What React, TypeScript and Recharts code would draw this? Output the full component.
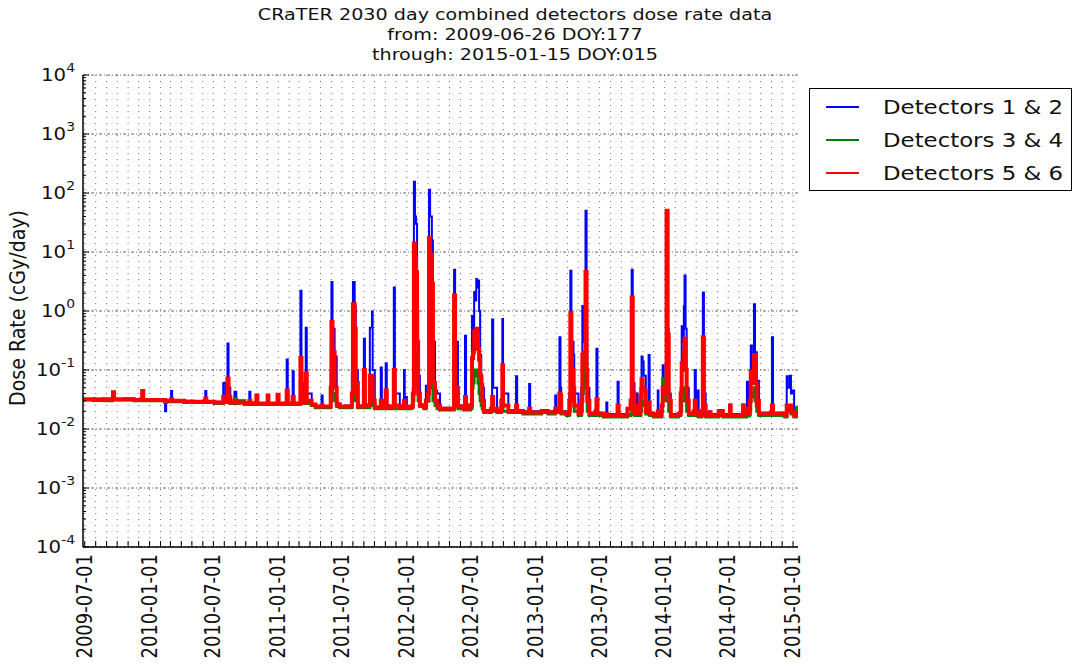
import React from 'react'
import { LineChart, Line, XAxis, YAxis, CartesianGrid } from 'recharts'

// days counted from 2009-06-26 (DOY 177)
const START_DATE = '2009-06-26'
const LAST_DAY = 2029

const days = [
  0, 31, 60, 83, 85, 88, 117, 145, 165, 168,
  171, 202, 230, 233, 236, 250, 253, 287, 316, 347,
  350, 373, 396, 398, 404, 410, 413, 418, 430, 435,
  444, 458, 472, 475, 492, 495, 512, 524, 526, 552,
  555, 575, 578, 581, 595, 598, 615, 617, 620, 626,
  632, 635, 649, 660, 677, 680, 694, 703, 705, 708,
  714, 720, 729, 743, 760, 763, 766, 771, 774, 780,
  794, 797, 800, 811, 814, 820, 822, 828, 845, 848,
  859, 862, 871, 879, 882, 885, 899, 911, 913, 916,
  919, 931, 936, 939, 942, 945, 948, 951, 956, 968,
  973, 979, 982, 985, 990, 993, 999, 1005, 1013, 1030,
  1050, 1053, 1056, 1061, 1064, 1081, 1084, 1087, 1098, 1104,
  1107, 1110, 1113, 1116, 1118, 1121, 1124, 1127, 1130, 1133,
  1138, 1150, 1158, 1161, 1164, 1175, 1187, 1190, 1192, 1207,
  1229, 1232, 1249, 1266, 1269, 1286, 1301, 1320, 1340, 1343,
  1352, 1355, 1357, 1372, 1380, 1383, 1386, 1392, 1394, 1406,
  1414, 1417, 1420, 1426, 1429, 1431, 1437, 1454, 1457, 1460,
  1477, 1485, 1488, 1503, 1517, 1520, 1537, 1545, 1554, 1557,
  1560, 1565, 1571, 1574, 1582, 1585, 1588, 1591, 1597, 1605,
  1608, 1619, 1631, 1633, 1642, 1645, 1648, 1653, 1656, 1659,
  1662, 1668, 1679, 1690, 1696, 1699, 1702, 1705, 1707, 1710,
  1713, 1719, 1733, 1736, 1739, 1744, 1747, 1756, 1759, 1762,
  1767, 1776, 1781, 1793, 1804, 1816, 1836, 1838, 1853, 1873,
  1875, 1884, 1887, 1892, 1895, 1898, 1904, 1907, 1912, 1915,
  1918, 1929, 1938, 1952, 1955, 1958, 1972, 1992, 1997, 2000,
  2006, 2009, 2012, 2018, 2024, 2029
]

// Detectors 1 & 2 (blue)
const det12 = [
  0.032, 0.033, 0.032, 0.032, 0.035, 0.032, 0.033, 0.032, 0.032, 0.036,
  0.032, 0.032, 0.031, 0.020, 0.030, 0.044, 0.030, 0.030, 0.029, 0.044,
  0.029, 0.029, 0.029, 0.06, 0.030, 0.28, 0.05, 0.029, 0.043, 0.028,
  0.030, 0.028, 0.043, 0.028, 0.030, 0.027, 0.027, 0.030, 0.027, 0.032,
  0.027, 0.027, 0.15, 0.027, 0.095, 0.027, 0.028, 2.2, 0.06, 0.029,
  0.52, 0.04, 0.026, 0.024, 0.037, 0.024, 0.024, 0.10, 3.1, 0.5,
  0.17, 0.027, 0.024, 0.025, 0.025, 0.095, 3.1, 1.2, 0.10, 0.025,
  0.025, 0.34, 0.026, 0.026, 0.52, 0.98, 0.10, 0.024, 0.11, 0.024,
  0.13, 0.025, 0.024, 0.025, 2.5, 0.04, 0.024, 0.10, 0.024, 0.035,
  0.024, 0.025, 0.05, 155, 40, 30, 1.0, 0.08, 0.026, 0.024,
  0.054, 0.06, 113, 40, 15.7, 0.3, 0.045, 0.04, 0.023, 0.023,
  0.023, 5.0, 0.06, 0.3, 0.025, 0.023, 0.38, 0.023, 0.026, 0.82,
  0.5, 2.1, 1.5, 3.5, 2.5, 3.3, 1.0, 0.18, 0.08, 0.05,
  0.021, 0.021, 0.023, 0.72, 0.05, 0.021, 0.030, 0.73, 0.04, 0.021,
  0.078, 0.021, 0.020, 0.058, 0.020, 0.020, 0.021, 0.020, 0.037, 0.021,
  0.36, 0.05, 0.020, 0.019, 0.04, 4.8, 0.3, 0.18, 0.04, 0.019,
  0.05, 1.22, 0.3, 50, 0.5, 0.05, 0.019, 0.021, 0.23, 0.019,
  0.018, 0.028, 0.018, 0.018, 0.063, 0.018, 0.018, 0.022, 0.030, 5.0,
  0.06, 0.019, 0.04, 0.019, 0.05, 0.17, 0.14, 0.08, 0.021, 0.18,
  0.019, 0.018, 0.045, 0.018, 0.026, 0.12, 0.05, 0.05, 50, 0.5,
  0.04, 0.018, 0.018, 0.019, 0.05, 0.55, 0.3, 1.2, 4.0, 0.5,
  0.05, 0.019, 0.021, 0.10, 0.019, 0.045, 0.018, 0.021, 2.05, 0.04,
  0.018, 0.020, 0.018, 0.018, 0.021, 0.018, 0.026, 0.018, 0.018, 0.026,
  0.019, 0.063, 0.019, 0.05, 0.26, 0.10, 1.3, 0.2, 0.04, 0.066,
  0.019, 0.019, 0.019, 0.020, 0.36, 0.019, 0.019, 0.018, 0.078, 0.05,
  0.08, 0.04, 0.045, 0.018, 0.019, 0.021
]

// Detectors 3 & 4 (green)
const det34 = [
  0.031, 0.031, 0.030, 0.031, 0.032, 0.031, 0.031, 0.030, 0.030, 0.033,
  0.030, 0.030, 0.030, 0.029, 0.029, 0.031, 0.029, 0.028, 0.028, 0.030,
  0.028, 0.027, 0.027, 0.03, 0.028, 0.04, 0.03, 0.027, 0.033, 0.027,
  0.030, 0.026, 0.028, 0.026, 0.028, 0.026, 0.026, 0.028, 0.026, 0.028,
  0.026, 0.026, 0.035, 0.026, 0.030, 0.026, 0.026, 0.06, 0.03, 0.027,
  0.04, 0.027, 0.025, 0.023, 0.025, 0.023, 0.023, 0.030, 0.08, 0.04,
  0.03, 0.024, 0.023, 0.023, 0.023, 0.030, 0.10, 0.05, 0.03, 0.023,
  0.023, 0.04, 0.023, 0.023, 0.03, 0.04, 0.025, 0.022, 0.025, 0.022,
  0.025, 0.022, 0.022, 0.022, 0.04, 0.022, 0.022, 0.025, 0.022, 0.022,
  0.022, 0.023, 0.03, 0.3, 0.2, 0.1, 0.05, 0.03, 0.024, 0.022,
  0.030, 0.03, 0.3, 0.2, 0.05, 0.03, 0.025, 0.022, 0.021, 0.021,
  0.021, 0.05, 0.025, 0.03, 0.022, 0.021, 0.025, 0.021, 0.022, 0.05,
  0.06, 0.08, 0.1, 0.1, 0.08, 0.06, 0.04, 0.03, 0.025, 0.022,
  0.019, 0.019, 0.020, 0.025, 0.020, 0.019, 0.020, 0.03, 0.020, 0.019,
  0.022, 0.019, 0.018, 0.020, 0.018, 0.018, 0.019, 0.018, 0.020, 0.019,
  0.03, 0.022, 0.018, 0.017, 0.020, 0.06, 0.03, 0.03, 0.020, 0.017,
  0.02, 0.04, 0.05, 0.2, 0.05, 0.02, 0.017, 0.018, 0.025, 0.017,
  0.016, 0.017, 0.016, 0.016, 0.020, 0.016, 0.016, 0.017, 0.018, 0.04,
  0.02, 0.017, 0.02, 0.017, 0.02, 0.025, 0.03, 0.025, 0.018, 0.022,
  0.017, 0.016, 0.018, 0.016, 0.020, 0.072, 0.03, 0.05, 48, 0.3,
  0.02, 0.016, 0.016, 0.017, 0.02, 0.03, 0.03, 0.04, 0.05, 0.03,
  0.02, 0.017, 0.017, 0.020, 0.017, 0.017, 0.016, 0.017, 0.03, 0.018,
  0.016, 0.017, 0.016, 0.016, 0.017, 0.016, 0.017, 0.016, 0.016, 0.017,
  0.016, 0.020, 0.017, 0.02, 0.04, 0.035, 0.05, 0.03, 0.02, 0.02,
  0.017, 0.017, 0.017, 0.017, 0.02, 0.017, 0.017, 0.016, 0.02, 0.02,
  0.02, 0.018, 0.018, 0.016, 0.023, 0.025
]

// Detectors 5 & 6 (red)
const det56 = [
  0.032, 0.031, 0.032, 0.032, 0.042, 0.032, 0.032, 0.031, 0.032, 0.044,
  0.031, 0.031, 0.031, 0.029, 0.030, 0.032, 0.030, 0.029, 0.029, 0.033,
  0.029, 0.028, 0.028, 0.035, 0.029, 0.072, 0.035, 0.028, 0.030, 0.028,
  0.028, 0.027, 0.030, 0.027, 0.037, 0.027, 0.027, 0.037, 0.027, 0.038,
  0.027, 0.027, 0.045, 0.027, 0.035, 0.027, 0.027, 0.16, 0.04, 0.028,
  0.087, 0.030, 0.026, 0.024, 0.025, 0.024, 0.024, 0.050, 0.66, 0.2,
  0.05, 0.026, 0.024, 0.024, 0.024, 0.040, 1.3, 0.5, 0.06, 0.024,
  0.024, 0.10, 0.025, 0.025, 0.08, 0.072, 0.030, 0.023, 0.030, 0.023,
  0.045, 0.024, 0.023, 0.024, 0.10, 0.025, 0.023, 0.030, 0.023, 0.024,
  0.023, 0.024, 0.04, 13.9, 8, 4.6, 0.3, 0.04, 0.025, 0.023,
  0.030, 0.04, 17.5, 9, 2.9, 0.06, 0.030, 0.025, 0.022, 0.022,
  0.022, 1.83, 0.04, 0.05, 0.024, 0.022, 0.035, 0.022, 0.025, 0.16,
  0.2, 0.44, 0.3, 0.5, 0.4, 0.23, 0.15, 0.08, 0.056, 0.030,
  0.020, 0.020, 0.022, 0.035, 0.022, 0.020, 0.030, 0.12, 0.025, 0.020,
  0.025, 0.020, 0.019, 0.022, 0.019, 0.019, 0.020, 0.019, 0.022, 0.020,
  0.04, 0.037, 0.019, 0.018, 0.030, 0.91, 0.10, 0.05, 0.025, 0.018,
  0.03, 0.18, 0.2, 4.6, 0.1, 0.03, 0.018, 0.020, 0.032, 0.018,
  0.017, 0.018, 0.017, 0.017, 0.025, 0.017, 0.017, 0.022, 0.030, 1.7,
  0.04, 0.018, 0.025, 0.018, 0.035, 0.07, 0.05, 0.045, 0.020, 0.028,
  0.018, 0.017, 0.020, 0.017, 0.025, 0.05, 0.04, 0.05, 50, 0.4,
  0.03, 0.017, 0.017, 0.018, 0.04, 0.13, 0.1, 0.2, 0.34, 0.1,
  0.03, 0.018, 0.020, 0.030, 0.018, 0.020, 0.017, 0.020, 0.36, 0.025,
  0.017, 0.019, 0.017, 0.017, 0.020, 0.017, 0.025, 0.017, 0.017, 0.025,
  0.018, 0.022, 0.018, 0.03, 0.094, 0.06, 0.18, 0.06, 0.025, 0.03,
  0.018, 0.018, 0.018, 0.019, 0.025, 0.018, 0.018, 0.017, 0.025, 0.02,
  0.025, 0.020, 0.020, 0.017, 0.018, 0.020
]

const tickLabels = [
  '2009-07-01', '2010-01-01', '2010-07-01', '2011-01-01', '2011-07-01', '2012-01-01',
  '2012-07-01', '2013-01-01', '2013-07-01', '2014-01-01', '2014-07-01', '2015-01-01'
]

const decades = [1e-4, 1e-3, 1e-2, 1e-1, 1, 10, 100, 1000, 1e4]
const exponents = ['-4', '-3', '-2', '-1', '0', '1', '2', '3', '4']

const titleLines = [
  'CRaTER 2030 day combined detectors dose rate data',
  'from: 2009-06-26 DOY:177',
  'through: 2015-01-15 DOY:015'
]

const legendItems = [
  { name: 'Detectors 1 & 2', color: '#0000ff' },
  { name: 'Detectors 3 & 4', color: '#008000' },
  { name: 'Detectors 5 & 6', color: '#ff0000' }
]

const FONT = '"DejaVu Sans", sans-serif'
const STRETCH = 1.16 // the original picture is a bit wider than tall

const DAY_MS = 86400000
const startMs = Date.parse(START_DATE)
const dayOf = (iso: string) => Math.round((Date.parse(iso) - startMs) / DAY_MS)

const labelByDay = new Map<number, string>()
tickLabels.forEach((l) => labelByDay.set(dayOf(l), l))

// a tick on the first of every month
const monthDays: number[] = []
for (let y = 2009; y <= 2015; y++) {
  for (let m = 0; m < 12; m++) {
    const d = Math.round((Date.UTC(y, m, 1) - startMs) / DAY_MS)
    if (d >= 0 && d <= LAST_DAY) monthDays.push(d)
  }
}

const yTicks: number[] = []
decades.forEach((d, i) => {
  yTicks.push(d)
  if (i < decades.length - 1) for (let k = 2; k <= 9; k++) yTicks.push(k * d)
})

const rows = days.map((day, i) => ({ day, d12: det12[i], d34: det34[i], d56: det56[i] }))

const BottomTick = ({ x, y, payload }: any) => {
  const label = labelByDay.get(payload.value)
  return (
    <g>
      <line x1={x} x2={x} y1={y} y2={y - 6} stroke="#000" />
      {label && (
        <text
          transform={`translate(${x},${y + 7}) scale(${STRETCH},1) rotate(-90)`}
          textAnchor="end"
          dominantBaseline="central"
          fontSize={18}
          fontFamily={FONT}
          fill="#111"
        >
          {label}
        </text>
      )}
    </g>
  )
}

const TopTick = ({ x, y }: any) => <line x1={x} x2={x} y1={y} y2={y + 6} stroke="#000" />

const LeftTick = ({ x, y, payload }: any) => {
  const idx = decades.indexOf(payload.value)
  const major = idx >= 0
  return (
    <g>
      <line x1={x} x2={x + (major ? 6 : 3)} y1={y} y2={y} stroke="#000" />
      {major && (
        <text transform={`translate(${x - 8},${y}) scale(${STRETCH},1)`} textAnchor="end" fontFamily={FONT} fill="#111">
          <tspan fontSize={17} dy="0.35em">10</tspan>
          <tspan fontSize={12} dy="-0.75em">{exponents[idx]}</tspan>
        </text>
      )}
    </g>
  )
}

const RightTick = ({ x, y, payload }: any) => {
  const major = decades.indexOf(payload.value) >= 0
  return <line x1={x} x2={x - (major ? 6 : 3)} y1={y} y2={y} stroke="#000" />
}

const YLabel = ({ viewBox }: any) => (
  <text
    transform={`translate(${viewBox.x + 18},${viewBox.y + viewBox.height / 2 - 3}) scale(${STRETCH},1) rotate(-90)`}
    textAnchor="middle"
    dominantBaseline="central"
    fontSize={19}
    fontFamily={FONT}
    fill="#111"
  >
    Dose Rate (cGy/day)
  </text>
)

export default function App() {
  return (
    <div style={{ position: 'absolute', left: 0, top: 0, width: 1073, height: 667, background: '#fff', fontFamily: FONT }}>
      <LineChart width={1073} height={667} data={rows} margin={{ top: 75, right: 275, bottom: 0, left: 0 }}>
        <CartesianGrid horizontal={false} verticalValues={monthDays} stroke="#000" strokeOpacity={0.55} strokeDasharray="1 5" />
        <CartesianGrid vertical={false} horizontalValues={decades} stroke="#000" strokeOpacity={0.6} strokeDasharray="3 2 1 2" />
        <XAxis
          dataKey="day"
          type="number"
          domain={[0, LAST_DAY]}
          allowDataOverflow
          ticks={monthDays}
          interval={0}
          height={120}
          tickSize={0}
          tickMargin={0}
          tickLine={false}
          tick={<BottomTick />}
          axisLine={{ stroke: '#000', strokeWidth: 1.5 }}
        />
        <XAxis
          xAxisId="top"
          orientation="top"
          dataKey="day"
          type="number"
          domain={[0, LAST_DAY]}
          allowDataOverflow
          ticks={monthDays}
          interval={0}
          height={0}
          tickSize={0}
          tickMargin={0}
          tickLine={false}
          tick={<TopTick />}
          axisLine={{ stroke: '#000', strokeWidth: 1.5 }}
        />
        <YAxis
          type="number"
          scale="log"
          domain={[1e-4, 1e4]}
          allowDataOverflow
          ticks={yTicks}
          interval={0}
          width={83}
          tickSize={0}
          tickMargin={0}
          tickLine={false}
          tick={<LeftTick />}
          axisLine={{ stroke: '#000', strokeWidth: 1.5 }}
          label={{ content: <YLabel /> }}
        />
        <YAxis
          yAxisId="right"
          orientation="right"
          type="number"
          scale="log"
          domain={[1e-4, 1e4]}
          allowDataOverflow
          ticks={yTicks}
          interval={0}
          width={0}
          tickSize={0}
          tickMargin={0}
          tickLine={false}
          tick={<RightTick />}
          axisLine={{ stroke: '#000', strokeWidth: 1.5 }}
        />
        {/* daily samples: hold each value until the next one */}
        <Line type="stepAfter" dataKey="d12" stroke="#0000ff" strokeWidth={2} dot={false} isAnimationActive={false} />
        <Line type="stepAfter" dataKey="d34" stroke="#008000" strokeWidth={3} dot={false} isAnimationActive={false} />
        <Line type="stepAfter" dataKey="d56" stroke="#ff0000" strokeWidth={4} dot={false} isAnimationActive={false} />
      </LineChart>

      {/* title, centred on the figure rather than on the axes */}
      {titleLines.map((t, i) => (
        <div
          key={t}
          style={{
            position: 'absolute',
            left: 515,
            top: 4.8 + i * 20.2,
            fontSize: 16.5,
            lineHeight: '20px',
            whiteSpace: 'nowrap',
            color: '#111',
            transform: `translateX(-50%) scaleX(${STRETCH})`
          }}
        >
          {t}
        </div>
      ))}

      {/* legend */}
      <div
        style={{
          position: 'absolute',
          left: 809,
          top: 88,
          width: 263,
          height: 103,
          boxSizing: 'border-box',
          border: '1px solid #000',
          background: '#fff'
        }}
      >
        {legendItems.map((item, i) => (
          <div key={item.name}>
            <div
              style={{
                position: 'absolute',
                left: 16,
                top: 17 + i * 33,
                width: 33,
                height: 2,
                background: item.color
              }}
            />
            <div
              style={{
                position: 'absolute',
                left: 73,
                top: 19 + i * 33 - 11.6,
                fontSize: 19.7,
                lineHeight: '24px',
                whiteSpace: 'nowrap',
                color: '#111',
                transform: `scaleX(${STRETCH})`,
                transformOrigin: 'left center'
              }}
            >
              {item.name}
            </div>
          </div>
        ))}
      </div>
    </div>
  )
}
